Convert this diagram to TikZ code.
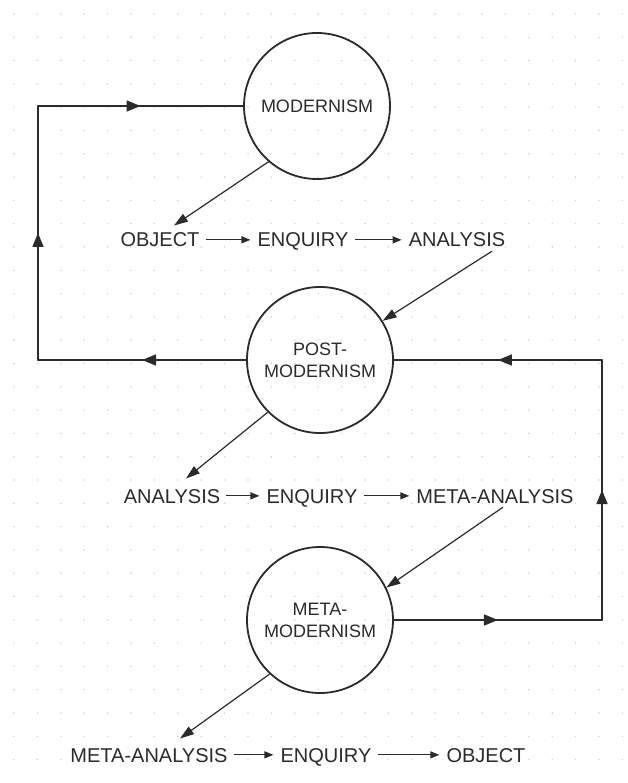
\documentclass[tikz,border=0pt]{standalone}
\usepackage{fontspec}
\setmainfont{Liberation Sans}
\usetikzlibrary{arrows.meta,decorations.markings}
\definecolor{ink}{HTML}{2B2B2B}
\definecolor{dotgrey}{HTML}{CFCFCF}
\begin{document}
\begin{tikzpicture}[x=1pt,y=-1pt,
  ism/.style={circle,draw=ink,line width=1.8pt,minimum size=146pt,inner sep=0pt,
    align=center,font=\fontsize{18}{22}\selectfont,text=ink},
  word/.style={anchor=base,font=\fontsize{20}{24}\selectfont,text=ink,
    text height=14.3pt,text depth=0pt,inner sep=2pt},
  loopline/.style={draw=ink,line width=1.5pt,line cap=round},
  midtip/.style={postaction={decorate},decoration={markings,
    mark=at position 0.5 with {\arrow{Triangle[length=14pt,width=11pt]}}}},
  link/.style={draw=ink,line width=1.2pt,-{Triangle[length=14pt,width=9pt]}},
  flow/.style={draw=ink,line width=1.2pt,-{Triangle[length=9pt,width=7pt]},
    shorten <=4pt,shorten >=5pt}
]
% paper and dot grid
\fill[white] (0,0) rectangle (627,783);
\useasboundingbox (0,0) rectangle (627,783);
\foreach \i in {0,...,26}{
  \foreach \j in {0,...,32}{
    \fill[dotgrey] ({14+23.4*\i},{14+23.3*\j}) circle (0.8pt);
  }
}

% the three movements
\node[ism] (mod)  at (317,106) {MODERNISM};
\node[ism] (post) at (320,360) {POST-\\MODERNISM};
\node[ism] (meta) at (320,620) {META-\\MODERNISM};

% corner points of the two feedback loops
\coordinate (tl) at (38,106);
\coordinate (bl) at (38,360);
\coordinate (br) at (602,620);
\coordinate (tr) at (602,360);

% left loop: post-modernism back to modernism
\draw[loopline,midtip] (post.west) -- (bl);
\draw[loopline,midtip] (bl) -- (tl);
\draw[loopline,midtip] (tl) -- (mod.west);

% right loop: meta-modernism back to post-modernism
\draw[loopline,midtip] (meta.east) -- (br);
\draw[loopline,midtip] (br) -- (tr);
\draw[loopline,midtip] (tr) -- (post.east);

% first chain
\node[word] (ob1) at (160,247) {OBJECT};
\node[word] (en1) at (303,247) {ENQUIRY};
\node[word] (an1) at (457,247) {ANALYSIS};
\draw[flow] (ob1.east) -- (en1.west);
\draw[flow] (en1.east) -- (an1.west);

% second chain
\node[word] (an2) at (172,503) {ANALYSIS};
\node[word] (en2) at (312,503) {ENQUIRY};
\node[word] (ma2) at (495,503) {META-ANALYSIS};
\draw[flow] (an2.east) -- (en2.west);
\draw[flow] (en2.east) -- (ma2.west);

% third chain
\node[word] (ma3) at (149,762) {META-ANALYSIS};
\node[word] (en3) at (326,762) {ENQUIRY};
\node[word] (ob3) at (486,762) {OBJECT};
\draw[flow] (ma3.east) -- (en3.west);
\draw[flow] (en3.east) -- (ob3.west);

% links between movements and chains
\draw[link] (mod.229) -- ([xshift=14pt,yshift=5pt]ob1.north);
\draw[link] ([xshift=35pt,yshift=-2pt]an1.south) -- (post.32);
\draw[link] (post.225) -- ([xshift=14pt,yshift=8pt]an2.north);
\draw[link] ([xshift=8pt,yshift=-2pt]ma2.south) -- (meta.26);
\draw[link] (meta.227) -- ([xshift=31pt,yshift=7pt]ma3.north);
\end{tikzpicture}
\end{document}
